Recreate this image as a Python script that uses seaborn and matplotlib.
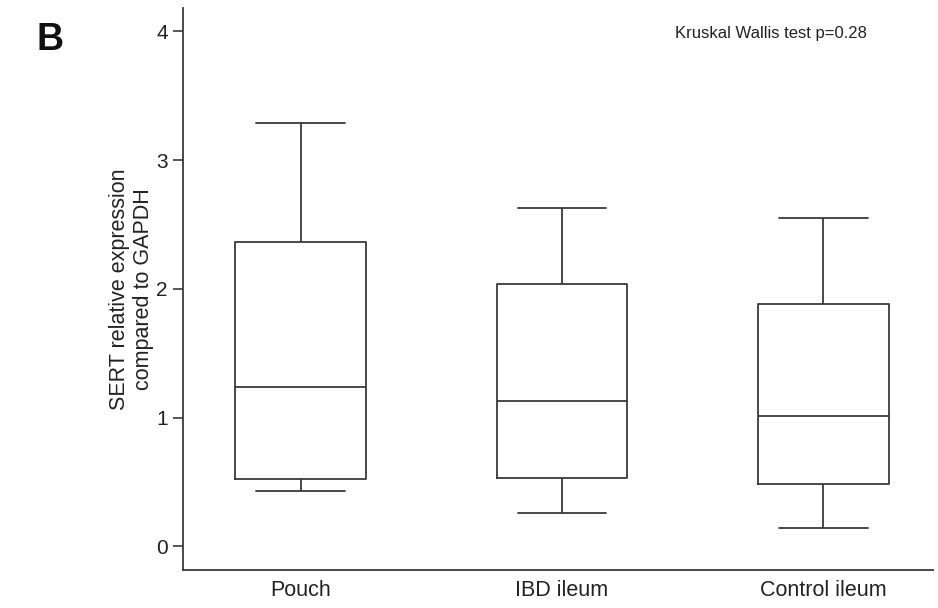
import numpy as np
import pandas as pd
import matplotlib
matplotlib.use("Agg")
import matplotlib.pyplot as plt
import seaborn as sns

# Valores: mínimo, Q1, mediana, Q3, máximo de cada grupo
groups = ["Pouch", "IBD ileum", "Control ileum"]
pouch = [0.43, 0.52, 1.24, 2.365, 3.29]
ibd_ileum = [0.26, 0.535, 1.13, 2.04, 2.63]
control_ileum = [0.145, 0.485, 1.015, 1.885, 2.55]
y_ticks = [0, 1, 2, 3, 4]

df = pd.DataFrame({
    "group": np.repeat(groups, 5),
    "value": pouch + ibd_ileum + control_ileum,
})

sns.set_style("white")
plt.rcParams["font.family"] = ["Liberation Sans", "DejaVu Sans"]

line_col = "#3a3a3a"
text_col = "#222222"
fig = plt.figure(figsize=(9.38, 6.08), dpi=100)
ax = fig.add_axes([0.195, 0.0625, 0.8, 0.924])

sns.boxplot(
    data=df, x="group", y="value", order=groups, ax=ax,
    whis=(0, 100), width=0.5, fill=False, color=line_col,
    linewidth=1.3, showfliers=False,
    capprops={"color": line_col}, whiskerprops={"color": line_col},
    medianprops={"color": line_col}, boxprops={"color": line_col},
)
# ajustar largura das capas
for line in ax.lines:
    xd = line.get_xdata()
    yd = line.get_ydata()
    if len(xd) == 2 and yd[0] == yd[1] and 0.1 < abs(xd[1] - xd[0]) < 0.3:
        c = (xd[0] + xd[1]) / 2
        line.set_xdata([c - 0.17, c + 0.17])

ax.set_xlim(-0.45, 2.42)
ax.set_ylim(-0.183, 4.18)
ax.set_yticks(y_ticks)
ax.set_yticklabels([str(t) for t in y_ticks], fontsize=15, color=text_col)
ax.tick_params(axis="y", length=7, width=1.2, color=line_col, pad=4, left=True)
ax.tick_params(axis="x", length=0, labelsize=15.5, labelcolor=text_col, pad=7)
ax.set_xlabel("")
ax.set_ylabel("SERT relative expression\ncompared to GAPDH", fontsize=15.5,
              color=text_col, labelpad=1.5, linespacing=1.2)

for s in ["top", "right"]:
    ax.spines[s].set_visible(False)
for s in ["left", "bottom"]:
    ax.spines[s].set_color(line_col)
    ax.spines[s].set_linewidth(1.3)

ax.text(0.783, 0.955, "Kruskal Wallis test p=0.28", transform=ax.transAxes,
        ha="center", va="center", fontsize=12, color=text_col)
fig.text(0.039, 0.935, "B", fontsize=27, fontweight="bold", ha="left",
         va="center", color="#111111")

fig.savefig("out.png", dpi=100)
